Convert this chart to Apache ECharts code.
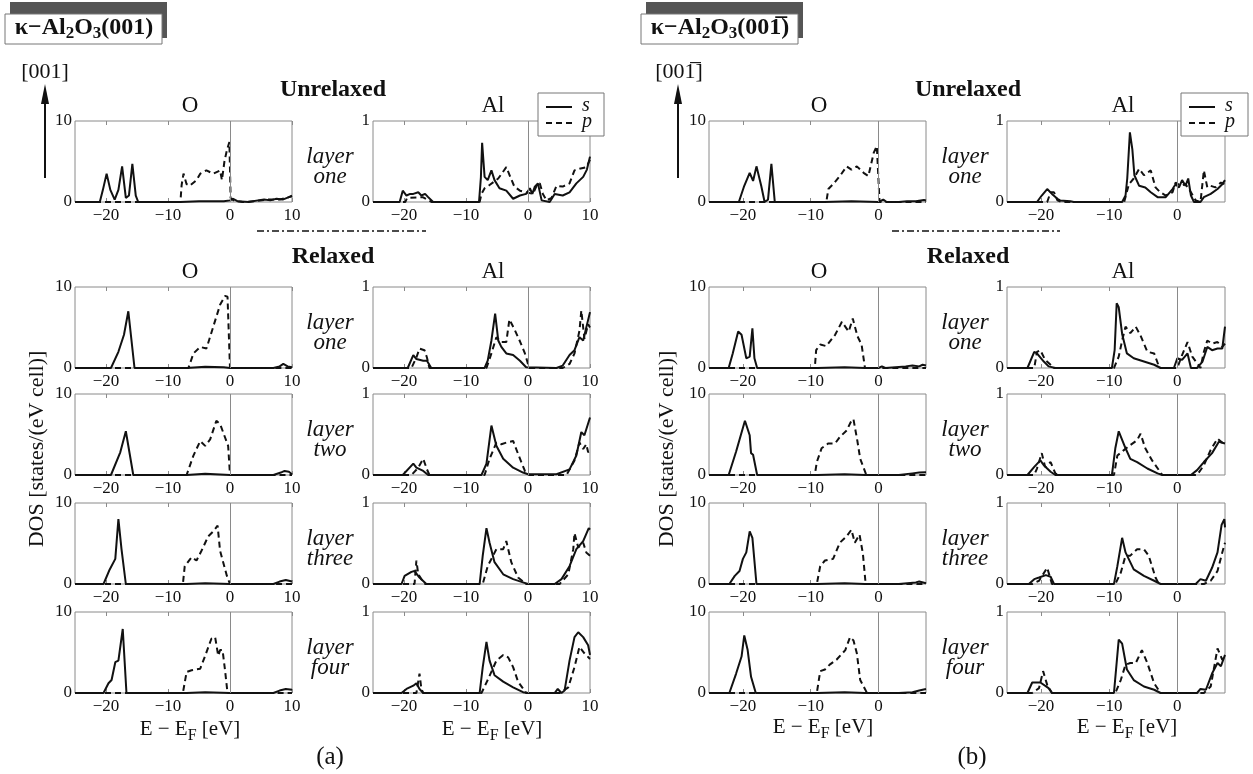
<!DOCTYPE html>
<html>
<head>
<meta charset="utf-8">
<script src="https://cdn.jsdelivr.net/npm/echarts@6/dist/echarts.min.js"></script>
<style>
  html, body { margin: 0; padding: 0; background: #fff; }
  #main { width: 1253px; height: 774px; }
</style>
</head>
<body>
<div id="main"></div>
<script>
// ---- data: [E - EF (eV), DOS] ----
// tick labels
const xTicksA = [-20, -10, 0, 10];
const xTicksB = [-20, -10, 0];
const layerNames = ['one', 'one', 'two', 'three', 'four'];

// (a) k-Al2O3(001), unrelaxed
const aUnrelO_s = [[-25,0],[-21,0],[-20.5,1.5],[-19.9,3.5],[-19.3,1.5],[-18.6,0.3],[-18,1.5],[-17.4,4.4],[-16.8,0.5],[-16.3,0.8],[-15.75,4.7],[-15.2,0.8],[-14.8,0],[-8,0],[-5,0.1],[-1,0.1],[0,0.2],[0.5,0.4],[1.2,0.1],[3,0],[4.5,0.2],[5.5,0.3],[6.5,0.2],[7.5,0.4],[8.5,0.3],[9.5,0.6],[10,0.7]];
const aUnrelO_p = [[-25,0],[-8,0],[-7.8,2.1],[-7.5,3.5],[-7,2.2],[-6.5,2],[-5.4,2.7],[-4.8,3.5],[-3.8,3.9],[-2.7,3.5],[-1.6,3.9],[-1.3,2.7],[-0.9,5],[-0.5,6.4],[-0.1,7.4],[0.1,0.5],[0.6,0.2],[2,0],[4,0.1],[6,0.3],[8,0.3],[9.5,0.6],[10,0.8]];
const aUnrelAl_s = [[-25,0],[-20.7,0],[-20.2,0.14],[-19.6,0.08],[-19,0.1],[-18.5,0.1],[-17.7,0.12],[-17.2,0.08],[-16.6,0.1],[-16.1,0.06],[-15.3,0],[-7.9,0],[-7.6,0.3],[-7.4,0.73],[-7,0.31],[-6.5,0.27],[-5.9,0.39],[-5.4,0.27],[-4.6,0.17],[-3.5,0.14],[-2.4,0.04],[-1.3,0.08],[-0.3,0.1],[0.3,0.17],[0.7,0.1],[1.1,0.19],[1.6,0.23],[2.2,0.02],[3.5,0],[4.3,0.1],[5.6,0.08],[6.7,0.12],[7.8,0.23],[8.9,0.31],[9.5,0.4],[10,0.56]];
const aUnrelAl_p = [[-25,0],[-19.8,0],[-19.5,0.05],[-17,0.06],[-15.5,0],[-7.8,0],[-7.5,0.1],[-7,0.17],[-6.2,0.21],[-4.8,0.29],[-3.5,0.43],[-2.96,0.33],[-2.2,0.19],[-1.3,0.14],[-0.3,0.12],[0.8,0.1],[1.4,0.2],[1.9,0.23],[2.4,0.1],[3,0.02],[3.8,0.05],[4.6,0.2],[5.6,0.19],[6.7,0.23],[7.5,0.39],[8.3,0.41],[9.4,0.43],[10,0.52]];

// (a) relaxed, layers one..four
const aRel1O_s = [[-25,0],[-19.2,0],[-18,2],[-17.1,4.1],[-16.4,7],[-16.1,7],[-15.4,0],[-7,0],[-4,0.15],[-1,0.1],[0,0],[7,0],[8,0.2],[8.6,0.5],[9.3,0.2],[10,0.1]];
const aRel1O_p = [[-25,0],[-6.7,0],[-5.9,1.8],[-4.8,2.6],[-3.8,2.4],[-2.7,5.1],[-1.6,7.8],[-0.8,8.9],[-0.4,8.8],[0,0],[10,0]];
const aRel2O_s = [[-25,0],[-19.2,0],[-17.7,2.8],[-16.8,5.4],[-16.5,5.4],[-15.6,0],[-7,0],[-4,0.15],[0,0],[7,0],[8.2,0.3],[8.8,0.5],[9.5,0.4],[10,0.1]];
const aRel2O_p = [[-25,0],[-7,0],[-5.9,2.4],[-4.8,4.2],[-4,3.6],[-3.2,4.4],[-2.2,6.7],[-1.6,6.3],[-0.3,3.6],[0,0],[10,0]];
const aRel3O_s = [[-25,0],[-20.4,0],[-19.4,1.8],[-18.5,3.1],[-18,8],[-17.5,4.3],[-16.8,0],[-7,0],[-4,0.1],[0,0],[7,0],[8,0.3],[9,0.5],[10,0.3]];
const aRel3O_p = [[-25,0],[-7.6,0],[-7.3,2.2],[-6.2,3.3],[-5.4,2.9],[-4.6,4.1],[-3.5,5.9],[-2.7,6.5],[-2,7.2],[-1.6,4.1],[-0.5,1],[0,0],[10,0]];
const aRel4O_s = [[-25,0],[-20.4,0],[-19.6,1.2],[-19.1,1.6],[-18.5,3.8],[-18,4],[-17.3,7.9],[-16.7,0],[-7,0],[-4,0.1],[0,0],[7,0],[8,0.3],[9,0.5],[10,0.4]];
const aRel4O_p = [[-25,0],[-7.6,0],[-7,2.6],[-6.2,2.8],[-4.8,3],[-4,4.6],[-3,6.7],[-2.4,6.9],[-1.9,4.6],[-1.6,5.3],[-1.2,5.3],[-0.8,2.8],[-0.4,0],[10,0]];

const aRel1Al_s = [[-25,0],[-19.4,0],[-18.5,0.16],[-18,0.11],[-16.9,0.09],[-16.3,0.09],[-15.6,0],[-7,0],[-6.5,0.09],[-5.9,0.34],[-5.3,0.67],[-4.8,0.34],[-4.3,0.26],[-3.5,0.18],[-2.4,0.16],[-1.3,0.09],[-0.3,0.01],[4.6,0],[5.6,0.03],[6.7,0.16],[7.5,0.22],[8.3,0.38],[8.9,0.34],[10,0.69]];
const aRel1Al_p = [[-25,0],[-18.8,0],[-18,0.13],[-17.5,0.24],[-16.7,0.22],[-16.3,0.13],[-15.9,0],[-6.7,0],[-5.9,0.18],[-5.1,0.38],[-4.3,0.32],[-3.5,0.32],[-3,0.6],[-2.2,0.48],[-1.3,0.33],[-0.5,0.18],[0.2,0],[5.6,0],[6.7,0.05],[7.5,0.18],[8.3,0.46],[8.6,0.71],[9.1,0.36],[9.7,0.54],[10,0.5]];
const aRel2Al_s = [[-25,0],[-20.2,0],[-18.5,0.14],[-18,0.09],[-16.9,0.05],[-16.1,0],[-7.5,0],[-6.7,0.14],[-5.9,0.61],[-5.1,0.36],[-4,0.2],[-2.4,0.09],[-0.8,0.03],[0,0.01],[4.6,0.01],[6.7,0.07],[7.8,0.24],[8.6,0.53],[9.1,0.49],[10,0.71]];
const aRel2Al_p = [[-25,0],[-18.8,0],[-17.7,0.09],[-16.9,0.2],[-16.3,0.07],[-15.9,0],[-7,0],[-6.2,0.2],[-5.1,0.4],[-4.3,0.38],[-3.5,0.4],[-2.4,0.42],[-1.6,0.26],[-0.5,0.05],[0.2,0],[6.2,0],[7.5,0.18],[8.3,0.4],[8.9,0.32],[9.4,0.38],[9.7,0.28],[10,0.3]];
const aRel3Al_s = [[-25,0],[-20.4,0],[-19.9,0.1],[-18.8,0.15],[-18.3,0.16],[-17.5,0.08],[-16.4,0],[-7.8,0],[-7.3,0.35],[-6.7,0.69],[-6.2,0.51],[-5.4,0.27],[-4,0.12],[-2.4,0.06],[-0.8,0.02],[0,0],[4.3,0],[5.4,0.06],[6.7,0.22],[7.8,0.43],[8.9,0.53],[9.8,0.69],[10,0.67]];
const aRel3Al_p = [[-25,0],[-18.3,0],[-18,0.29],[-17.7,0.12],[-17.2,0.06],[-16.6,0],[-7.3,0],[-6.5,0.22],[-5.1,0.43],[-4,0.43],[-3.5,0.53],[-2.7,0.27],[-1.6,0.08],[-0.3,0],[5.1,0],[6.5,0.12],[7.3,0.43],[7.5,0.63],[8.1,0.45],[8.9,0.51],[9.4,0.39],[10,0.35]];
const aRel4Al_s = [[-25,0],[-20.4,0],[-19.6,0.05],[-18.5,0.09],[-18,0.12],[-17.5,0.05],[-16.9,0],[-7.8,0],[-7.3,0.32],[-6.7,0.63],[-6.2,0.4],[-5.4,0.22],[-4,0.14],[-2.4,0.07],[-0.8,0.01],[0,0],[4.3,0],[4.8,0.05],[5.4,0],[5.9,0.03],[6.7,0.4],[7.5,0.69],[8.1,0.75],[8.9,0.69],[9.7,0.59],[10,0.47]];
const aRel4Al_p = [[-25,0],[-18,0],[-17.5,0.24],[-17.2,0.05],[-16.9,0],[-7.5,0],[-6.5,0.16],[-5.1,0.4],[-4,0.47],[-3.2,0.44],[-2.4,0.32],[-1.6,0.14],[-0.3,0],[5.1,0],[6.5,0.07],[7.5,0.32],[8.3,0.57],[9.1,0.49],[10,0.42]];

// (b) k-Al2O3(00-1), unrelaxed
const bUnrelO_s = [[-25,0],[-20.6,0],[-19.8,2],[-19,3.6],[-18.5,2.6],[-18,4.4],[-17.3,2],[-16.8,0],[-16.3,0.3],[-15.8,4.7],[-15.3,0],[-8,0],[-4,0.1],[0,0],[0.7,0.3],[1.2,0],[3,0],[4.2,0.1],[5.5,0.1],[6.7,0.25],[7,0.2]];
const bUnrelO_p = [[-25,0],[-7.7,0],[-7.4,1.6],[-6.7,2.2],[-5.7,3.2],[-4.7,4.4],[-4,4],[-3.2,4.4],[-2.2,3.6],[-1.5,3.2],[-0.7,6.1],[-0.25,6.9],[0.15,0],[7,0]];
const bUnrelAl_s = [[-25,0],[-20.6,0],[-19.9,0.08],[-19.1,0.16],[-18.4,0.1],[-17.6,0.04],[-17.2,0.02],[-15.7,0.01],[-15.2,0],[-8.1,0],[-7.6,0.08],[-7.35,0.29],[-6.96,0.86],[-6.6,0.65],[-6.3,0.33],[-5.6,0.2],[-4.7,0.18],[-3.9,0.12],[-2.9,0.06],[-1.7,0.06],[-0.7,0.16],[-0.25,0.22],[0.25,0.18],[0.7,0.27],[1.2,0.2],[1.6,0.29],[2,0.08],[2.45,0],[3.4,0],[3.9,0.06],[4.9,0.1],[5.9,0.16],[6.6,0.22],[7,0.27]];
const bUnrelAl_p = [[-25,0],[-19.1,0],[-18.6,0.12],[-18.1,0.12],[-17.6,0.02],[-17,0],[-7.8,0],[-7.1,0.22],[-6.4,0.29],[-5.6,0.41],[-4.9,0.33],[-3.9,0.39],[-3.2,0.18],[-2.5,0.12],[-1.7,0.08],[-0.7,0.12],[-0.25,0.24],[0.5,0.2],[1.2,0.22],[2,0.12],[2.7,0.02],[3.4,0],[3.9,0.39],[4.4,0.18],[4.9,0.2],[5.6,0.18],[6.4,0.24],[7,0.22]];

// (b) relaxed
const bRel1O_s = [[-25,0],[-22.1,0],[-21.5,1.8],[-20.7,4.5],[-20.2,4.1],[-19.5,1.2],[-19,1.4],[-18.6,4.9],[-18.3,1.2],[-17.9,0],[-9,0],[-5,0.1],[-2,0],[0,0],[0.5,0.2],[1,0],[4,0.2],[5,0.3],[6,0.2],[6.5,0.4],[7,0.3]];
const bRel1O_p = [[-25,0],[-9.4,0],[-9.2,2.2],[-8.6,2.9],[-7.7,2.7],[-6.4,4.1],[-5.4,5.7],[-4.4,4.5],[-3.8,6.1],[-3.1,3.9],[-2.5,2.9],[-2,0],[7,0]];
const bRel2O_s = [[-25,0],[-22.1,0],[-21,2.9],[-19.7,6.7],[-19,4.9],[-18.8,2.7],[-18.5,2.5],[-17.9,0],[-9,0],[-5,0.1],[-2,0],[3,0],[5,0.2],[6,0.3],[7,0.35]];
const bRel2O_p = [[-25,0],[-9.4,0],[-9.1,1.6],[-8.4,3.3],[-7.4,3.9],[-6.4,3.9],[-5.7,4.7],[-4.7,5.5],[-4,6.7],[-3.7,6.9],[-3.1,4.1],[-2.7,2],[-1.8,0],[7,0]];
const bRel3O_s = [[-25,0],[-22,0],[-21.2,1],[-20.5,1.6],[-20,3.1],[-19.5,3.9],[-19,6.5],[-18.6,5.7],[-18,0],[-9,0],[-5,0.1],[-2,0],[3,0],[5.5,0.2],[6,0.3],[7,0.1]];
const bRel3O_p = [[-25,0],[-9.1,0],[-8.6,2.2],[-7.9,2.9],[-6.7,3.1],[-5.7,5.1],[-4.7,5.9],[-4,6.7],[-3.5,5.1],[-2.8,6.1],[-2.3,3.7],[-1.9,0],[7,0]];
const bRel4O_s = [[-25,0],[-22,0],[-21,2.4],[-20.2,4.5],[-19.8,7.1],[-19.3,5.3],[-18.8,2],[-18.1,0],[-9,0],[-5,0.1],[-2,0],[3,0],[5,0.1],[6,0.3],[7,0.5]];
const bRel4O_p = [[-25,0],[-9.1,0],[-8.6,2.7],[-7.9,2.9],[-7.2,3.5],[-6.2,4.1],[-4.9,5.3],[-4.2,6.9],[-3.7,6.5],[-3.2,4.9],[-2.7,1.6],[-1.7,0],[7,0]];

const bRel1Al_s = [[-25,0],[-22,0],[-21,0.2],[-20.6,0.18],[-19.6,0.08],[-18.9,0.02],[-17.9,0],[-9.6,0],[-9.2,0.22],[-8.9,0.8],[-8.6,0.75],[-8.1,0.42],[-7.4,0.18],[-6.4,0.12],[-4.9,0.08],[-3.4,0.04],[-2.45,0],[-0.5,0],[0,0.12],[0.7,0.1],[1.5,0.18],[2,0],[2.9,0],[3.7,0.08],[4.4,0.26],[5.1,0.22],[5.9,0.24],[6.6,0.24],[7,0.51]];
const bRel1Al_p = [[-25,0],[-21,0],[-20.6,0.2],[-20.1,0.22],[-19.4,0.1],[-18.6,0.04],[-18.1,0],[-9.3,0],[-8.6,0.14],[-8.1,0.34],[-7.6,0.51],[-6.9,0.43],[-6.1,0.51],[-5.4,0.4],[-4.4,0.2],[-3.4,0.18],[-2.7,0.02],[-2.4,0],[0,0],[0.7,0.16],[1.5,0.32],[2.2,0.14],[3.4,0],[3.9,0.2],[4.4,0.34],[5.1,0.3],[5.9,0.32],[6.6,0.26],[7,0.3]];
const bRel2Al_s = [[-25,0],[-22,0],[-21,0.1],[-20.1,0.18],[-19.6,0.12],[-18.6,0.04],[-17.9,0],[-9.6,0],[-9.1,0.33],[-8.6,0.54],[-7.6,0.33],[-6.9,0.2],[-5.9,0.16],[-4.4,0.08],[-2.9,0.02],[-2.2,0],[2,0],[2.9,0.06],[3.9,0.16],[5.1,0.27],[6.1,0.41],[7,0.39]];
const bRel2Al_p = [[-25,0],[-21,0],[-20.6,0.08],[-19.9,0.27],[-19.4,0.1],[-18.6,0.16],[-17.9,0.02],[-17.5,0],[-9.3,0],[-8.8,0.24],[-7.8,0.31],[-6.9,0.37],[-5.9,0.43],[-5.4,0.51],[-4.7,0.33],[-3.7,0.18],[-2.7,0.06],[-2.2,0],[2.9,0],[3.9,0.12],[4.9,0.31],[5.9,0.45],[7,0.37]];
const bRel3Al_s = [[-25,0],[-21.8,0],[-21,0.06],[-20.3,0.08],[-19.3,0.11],[-18.6,0.09],[-18.1,0],[-9.3,0],[-8.8,0.22],[-8.1,0.57],[-7.6,0.39],[-6.4,0.18],[-4.9,0.1],[-3.4,0.04],[-2.45,0],[2.7,0],[3.4,0.06],[4.2,0.04],[5.1,0.2],[5.9,0.39],[6.5,0.73],[6.9,0.8],[7,0.7]];
const bRel3Al_p = [[-25,0],[-21.3,0],[-20.3,0.04],[-19.1,0.2],[-18.4,0],[-9.1,0],[-8.3,0.14],[-7.6,0.35],[-6.9,0.35],[-5.9,0.43],[-4.9,0.43],[-4.2,0.35],[-3.2,0.08],[-2.7,0],[3.9,0],[4.9,0.04],[5.9,0.16],[6.6,0.39],[7,0.51]];
const bRel4Al_s = [[-25,0],[-22,0],[-21.3,0.13],[-20.1,0.13],[-18.9,0.06],[-18.4,0],[-9.3,0],[-8.6,0.66],[-8.1,0.61],[-7.4,0.29],[-6.4,0.16],[-4.9,0.08],[-3.4,0.04],[-2.45,0],[2.9,0],[3.4,0.05],[4.2,0.04],[5.1,0.24],[5.9,0.37],[6.4,0.33],[7,0.47]];
const bRel4Al_p = [[-25,0],[-21.3,0],[-20.3,0.06],[-19.7,0.27],[-19.1,0.1],[-18.4,0],[-9.1,0],[-8.3,0.16],[-7.6,0.35],[-6.9,0.37],[-6.1,0.37],[-5.2,0.53],[-4.4,0.37],[-3.4,0.12],[-2.45,0],[3.9,0],[4.9,0.08],[5.9,0.55],[6.6,0.41],[7,0.45]];

// ---- layout ----
const SERIF = '"Liberation Serif", "DejaVu Serif", serif';
const INK = '#111';
const FRAME = '#8a8a8a';
const rowTops = [121, 287, 394, 503, 612];   // unrelaxed, then relaxed layers 1..4
const plotH = 81;

const sides = [
  {
    xMax: 10, ticks: xTicksA,
    cols: [
      { left: 75,  width: 217, yMax: 10, rows: [[aUnrelO_s, aUnrelO_p], [aRel1O_s, aRel1O_p], [aRel2O_s, aRel2O_p], [aRel3O_s, aRel3O_p], [aRel4O_s, aRel4O_p]] },
      { left: 373, width: 217, yMax: 1,  rows: [[aUnrelAl_s, aUnrelAl_p], [aRel1Al_s, aRel1Al_p], [aRel2Al_s, aRel2Al_p], [aRel3Al_s, aRel3Al_p], [aRel4Al_s, aRel4Al_p]] }
    ]
  },
  {
    xMax: 7, ticks: xTicksB,
    cols: [
      { left: 709,  width: 217, yMax: 10, rows: [[bUnrelO_s, bUnrelO_p], [bRel1O_s, bRel1O_p], [bRel2O_s, bRel2O_p], [bRel3O_s, bRel3O_p], [bRel4O_s, bRel4O_p]] },
      { left: 1007, width: 218, yMax: 1,  rows: [[bUnrelAl_s, bUnrelAl_p], [bRel1Al_s, bRel1Al_p], [bRel2Al_s, bRel2Al_p], [bRel3Al_s, bRel3Al_p], [bRel4Al_s, bRel4Al_p]] }
    ]
  }
];

const grid = [], xAxis = [], yAxis = [], series = [];
const minusFmt = function (v) { return String(v).replace('-', '\u2212'); };

sides.forEach(function (side) {
  side.cols.forEach(function (col) {
    col.rows.forEach(function (pair, r) {
      const g = grid.length;
      grid.push({
        left: col.left, top: rowTops[r], width: col.width, height: plotH,
        show: true, borderColor: FRAME, borderWidth: 1, backgroundColor: '#fff'
      });
      // bottom axis with labels
      xAxis.push({
        gridIndex: g, type: 'value', min: -25, max: side.xMax,
        axisLine: { show: false },
        axisTick: { show: true, inside: true, length: 4, customValues: side.ticks, lineStyle: { color: FRAME } },
        axisLabel: { customValues: side.ticks, formatter: minusFmt, fontFamily: 'Liberation Serif', fontSize: 17, color: INK, margin: 5 },
        splitLine: { show: false }
      });
      // top axis, ticks only
      xAxis.push({
        gridIndex: g, type: 'value', position: 'top', min: -25, max: side.xMax,
        axisLine: { show: false },
        axisTick: { show: true, inside: true, length: 4, customValues: side.ticks, lineStyle: { color: FRAME } },
        axisLabel: { show: false },
        splitLine: { show: false }
      });
      yAxis.push({
        gridIndex: g, type: 'value', min: 0, max: col.yMax, interval: col.yMax,
        axisLine: { show: false }, axisTick: { show: false },
        axisLabel: { fontFamily: 'Liberation Serif', fontSize: 17, color: INK, margin: 3 },
        splitLine: { show: false }
      });
      const xi = xAxis.length - 2;
      series.push({
        type: 'line', xAxisIndex: xi, yAxisIndex: g, data: pair[0],
        showSymbol: false, silent: true,
        lineStyle: { color: INK, width: 2 },
        markLine: {
          silent: true, symbol: 'none', label: { show: false },
          lineStyle: { color: FRAME, width: 1, type: 'solid' },
          data: [{ xAxis: 0 }]
        }
      });
      series.push({
        type: 'line', xAxisIndex: xi, yAxisIndex: g, data: pair[1],
        showSymbol: false, silent: true,
        lineStyle: { color: INK, width: 2, type: [6, 4] }
      });
    });
  });
});

// ---- text and decorations ----
const graphic = [];
const measureCtx = document.createElement('canvas').getContext('2d');

function txt(x, y, text, opt) {
  graphic.push({
    type: 'text', x: x, y: y, rotation: (opt && opt.rotation) || 0, z: 10,
    style: Object.assign({ text: text, fill: INK, font: '21px ' + SERIF, align: 'center', verticalAlign: 'middle' }, (opt && opt.style) || {})
  });
}
// text made of pieces, some of them lowered (subscripts); centred on cx
function pieces(cx, cy, parts, z) {
  let total = 0;
  parts.forEach(function (p) { measureCtx.font = p.font; p.w = measureCtx.measureText(p.t).width; total += p.w; });
  let x = cx - total / 2;
  parts.forEach(function (p) {
    graphic.push({
      type: 'text', x: x, y: cy + (p.dy || 0), z: z || 10,
      style: { text: p.t, font: p.font, fill: INK, align: 'left', verticalAlign: 'middle' }
    });
    x += p.w;
  });
}
function titleBox(x, label) {
  graphic.push({ type: 'rect', shape: { x: x + 5, y: 2, width: 157, height: 36 }, style: { fill: '#555' }, z: 9 });
  graphic.push({ type: 'rect', shape: { x: x, y: 14, width: 157, height: 30 }, style: { fill: '#fff', stroke: '#777', lineWidth: 1 }, z: 10 });
  const m = 'bold 24px ' + SERIF, s = 'bold 17px ' + SERIF;
  pieces(x + 79, 28, [
    { t: '\u03ba\u2212Al', font: m }, { t: '2', font: s, dy: 6 },
    { t: 'O', font: m }, { t: '3', font: s, dy: 6 }, { t: label, font: m }
  ], 11);
}
function eLabel(x, y) {
  pieces(x, y, [
    { t: 'E \u2212 E', font: '21px ' + SERIF },
    { t: 'F', font: '16px ' + SERIF, dy: 7 },
    { t: ' [eV]', font: '21px ' + SERIF }
  ]);
}
function arrow(x) {
  graphic.push({ type: 'line', shape: { x1: x, y1: 178, x2: x, y2: 100 }, style: { stroke: INK, lineWidth: 2 }, z: 10 });
  graphic.push({ type: 'polygon', shape: { points: [[x - 4, 104], [x + 4, 104], [x, 84]] }, style: { fill: INK }, z: 10 });
}
function legendBox(x, y, w) {
  graphic.push({ type: 'rect', shape: { x: x, y: y, width: w, height: 43 }, style: { fill: '#fff', stroke: '#777', lineWidth: 1 }, z: 20 });
  graphic.push({ type: 'line', shape: { x1: x + 8, y1: y + 14, x2: x + 34, y2: y + 14 }, style: { stroke: INK, lineWidth: 2 }, z: 21 });
  graphic.push({ type: 'line', shape: { x1: x + 8, y1: y + 30, x2: x + 34, y2: y + 30 }, style: { stroke: INK, lineWidth: 2, lineDash: [6, 4] }, z: 21 });
  graphic.push({ type: 'text', x: x + 44, y: y + 13, z: 21, style: { text: 's', font: 'italic 20px ' + SERIF, fill: INK, align: 'left', verticalAlign: 'middle' } });
  graphic.push({ type: 'text', x: x + 44, y: y + 29, z: 21, style: { text: 'p', font: 'italic 20px ' + SERIF, fill: INK, align: 'left', verticalAlign: 'middle' } });
}
function dashDot(x1, x2) {
  graphic.push({ type: 'line', shape: { x1: x1, y1: 231, x2: x2, y2: 231 }, style: { stroke: INK, lineWidth: 1.3, lineDash: [7, 3, 2, 3] }, z: 10 });
}

const headFont = 'bold 24px ' + SERIF;
// panel (a)
titleBox(5, '(001)');
txt(45, 72, '[001]', { style: { font: '22px ' + SERIF } });
arrow(45);
txt(333, 90, 'Unrelaxed', { style: { font: headFont } });
txt(333, 257, 'Relaxed', { style: { font: headFont } });
dashDot(257, 426);
legendBox(538, 93, 66);
// panel (b)
titleBox(641, '(00' + '1\u0305' + ')');
txt(679, 72, '[00' + '1\u0305' + ']', { style: { font: '22px ' + SERIF } });
arrow(678);
txt(968, 90, 'Unrelaxed', { style: { font: headFont } });
txt(968, 257, 'Relaxed', { style: { font: headFont } });
dashDot(892, 1060);
legendBox(1181, 93, 67);

// element titles
[[190, 493], [819, 1123]].forEach(function (xs) {
  txt(xs[0], 106, 'O', { style: { font: '23px ' + SERIF } }); txt(xs[1], 106, 'Al', { style: { font: '23px ' + SERIF } });
  txt(xs[0], 272, 'O', { style: { font: '23px ' + SERIF } }); txt(xs[1], 272, 'Al', { style: { font: '23px ' + SERIF } });
});

// layer labels between the columns
[330, 965].forEach(function (lx) {
  rowTops.forEach(function (t, r) {
    txt(lx, t + 36, 'layer', { style: { font: 'italic 23px ' + SERIF } });
    txt(lx, t + 56, layerNames[r], { style: { font: 'italic 23px ' + SERIF } });
  });
});

// axis titles
txt(37, 449, 'DOS [states/(eV cell)]', { rotation: Math.PI / 2, style: { font: '22px ' + SERIF } });
txt(667, 449, 'DOS [states/(eV cell)]', { rotation: Math.PI / 2, style: { font: '22px ' + SERIF } });
eLabel(190, 729); eLabel(492, 729); eLabel(823, 727); eLabel(1127, 727);
txt(330, 757, '(a)', { style: { font: '25px ' + SERIF } });
txt(972, 757, '(b)', { style: { font: '25px ' + SERIF } });

const myChart = echarts.init(document.getElementById('main'));
myChart.setOption({
  backgroundColor: '#fff',
  animation: false,
  grid: grid,
  xAxis: xAxis,
  yAxis: yAxis,
  series: series,
  graphic: graphic
});
</script>
</body>
</html>
